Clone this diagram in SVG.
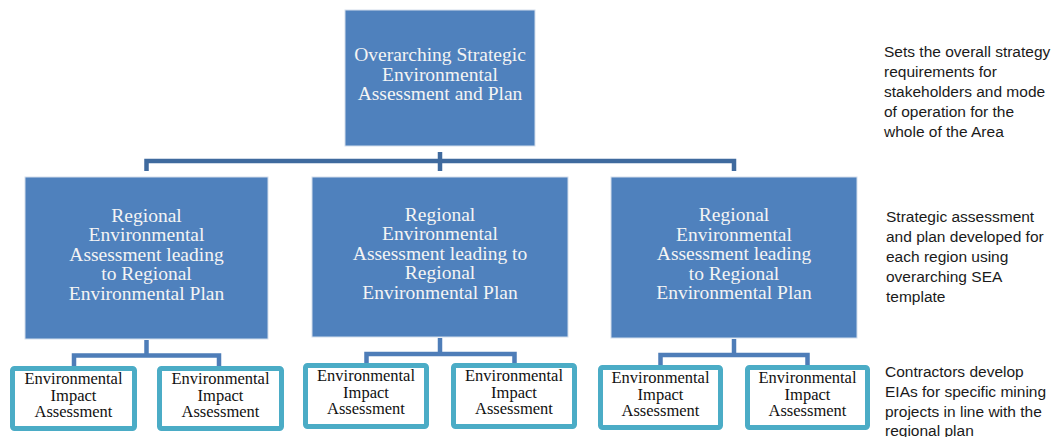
<svg xmlns="http://www.w3.org/2000/svg" width="1057" height="437" viewBox="0 0 1057 437">
  <style>
    .big { fill: #4F81BD; stroke: #D3DEEC; stroke-width: 1; }
    .small { fill: #FFFFFF; stroke: #4BACC6; stroke-width: 5; }
    .bt { font-family: "Liberation Serif", "Times New Roman", serif; font-size: 19.5px; fill: #F4F4F4; text-anchor: middle; }
    .st { font-family: "Liberation Serif", "Times New Roman", serif; font-size: 16.5px; fill: #111111; text-anchor: middle; }
    .note { font-family: "Liberation Sans", Arial, sans-serif; font-size: 15.5px; fill: #1A1A1A; }
    .conn-top { fill: none; stroke: #3F6A9E; stroke-width: 4.5; stroke-linejoin: miter; }
    .conn { fill: none; stroke: #4E7DB8; stroke-width: 4.5; stroke-linejoin: miter; }
  </style>

  <!-- connectors -->
  <g id="connectors">
    <path class="conn-top" d="M146.5,171 V161 H734 V171"/>
    <path class="conn-top" d="M440,152 V171"/>
    <path class="conn" d="M146.5,340 V355.5"/>
    <path class="conn" d="M74,367 V355.5 H219 V367"/>
    <path class="conn" d="M440,338 V354"/>
    <path class="conn" d="M366.5,364 V354 H514.5 V364"/>
    <path class="conn" d="M734,339 V355"/>
    <path class="conn" d="M660.5,366 V355 H807.5 V366"/>
  </g>

  <!-- overarching plan -->
  <g id="node-sea">
    <rect class="big" x="345" y="10" width="190" height="136"/>
    <text class="bt" x="440" y="61">Overarching Strategic</text>
    <text class="bt" x="440" y="80.5">Environmental</text>
    <text class="bt" x="440" y="100">Assessment and Plan</text>
  </g>

  <!-- regional plans -->
  <g id="node-region-1">
    <rect class="big" x="25" y="177" width="243" height="162"/>
    <text class="bt" x="146.5" y="221.5">Regional</text>
    <text class="bt" x="146.5" y="241">Environmental</text>
    <text class="bt" x="146.5" y="260.5">Assessment leading</text>
    <text class="bt" x="146.5" y="280">to Regional</text>
    <text class="bt" x="146.5" y="299.5">Environmental Plan</text>
  </g>
  <g id="node-region-2">
    <rect class="big" x="312" y="177" width="256" height="160"/>
    <text class="bt" x="440" y="220.5">Regional</text>
    <text class="bt" x="440" y="240">Environmental</text>
    <text class="bt" x="440" y="259.5">Assessment leading to</text>
    <text class="bt" x="440" y="279">Regional</text>
    <text class="bt" x="440" y="298.5">Environmental Plan</text>
  </g>
  <g id="node-region-3">
    <rect class="big" x="611" y="177" width="246" height="161"/>
    <text class="bt" x="734" y="221">Regional</text>
    <text class="bt" x="734" y="240.5">Environmental</text>
    <text class="bt" x="734" y="260">Assessment leading</text>
    <text class="bt" x="734" y="279.5">to Regional</text>
    <text class="bt" x="734" y="299">Environmental Plan</text>
  </g>

  <!-- environmental impact assessments -->
  <g id="node-eia-1a">
    <rect class="small" x="12.5" y="368.5" width="122" height="60" rx="2"/>
    <text class="st" x="73.5" y="384">Environmental</text>
    <text class="st" x="73.5" y="400.5">Impact</text>
    <text class="st" x="73.5" y="416.5">Assessment</text>
  </g>
  <g id="node-eia-1b">
    <rect class="small" x="159.5" y="368.5" width="122" height="60" rx="2"/>
    <text class="st" x="220.5" y="384">Environmental</text>
    <text class="st" x="220.5" y="400.5">Impact</text>
    <text class="st" x="220.5" y="416.5">Assessment</text>
  </g>
  <g id="node-eia-2a">
    <rect class="small" x="305.5" y="365.5" width="121" height="61" rx="2"/>
    <text class="st" x="366" y="381">Environmental</text>
    <text class="st" x="366" y="397.5">Impact</text>
    <text class="st" x="366" y="413.5">Assessment</text>
  </g>
  <g id="node-eia-2b">
    <rect class="small" x="453.5" y="365.5" width="121" height="61" rx="2"/>
    <text class="st" x="514" y="381">Environmental</text>
    <text class="st" x="514" y="397.5">Impact</text>
    <text class="st" x="514" y="413.5">Assessment</text>
  </g>
  <g id="node-eia-3a">
    <rect class="small" x="600.5" y="367.5" width="120" height="60" rx="2"/>
    <text class="st" x="660.5" y="383">Environmental</text>
    <text class="st" x="660.5" y="399.5">Impact</text>
    <text class="st" x="660.5" y="415.5">Assessment</text>
  </g>
  <g id="node-eia-3b">
    <rect class="small" x="747.5" y="367.5" width="120" height="60" rx="2"/>
    <text class="st" x="807.5" y="383">Environmental</text>
    <text class="st" x="807.5" y="399.5">Impact</text>
    <text class="st" x="807.5" y="415.5">Assessment</text>
  </g>

  <!-- level descriptions -->
  <g id="note-sea">
    <text class="note" x="884" y="57">Sets the overall strategy</text>
    <text class="note" x="884" y="77">requirements for</text>
    <text class="note" x="884" y="97">stakeholders and mode</text>
    <text class="note" x="884" y="117">of operation for the</text>
    <text class="note" x="884" y="137">whole of the Area</text>
  </g>
  <g id="note-region">
    <text class="note" x="886" y="222">Strategic assessment</text>
    <text class="note" x="886" y="242">and plan developed for</text>
    <text class="note" x="886" y="262">each region using</text>
    <text class="note" x="886" y="282">overarching SEA</text>
    <text class="note" x="886" y="302">template</text>
  </g>
  <g id="note-eia">
    <text class="note" x="885" y="376.5">Contractors develop</text>
    <text class="note" x="885" y="396.5">EIAs for specific mining</text>
    <text class="note" x="885" y="416.5">projects in line with the</text>
    <text class="note" x="885" y="435.5">regional plan</text>
  </g>
</svg>
